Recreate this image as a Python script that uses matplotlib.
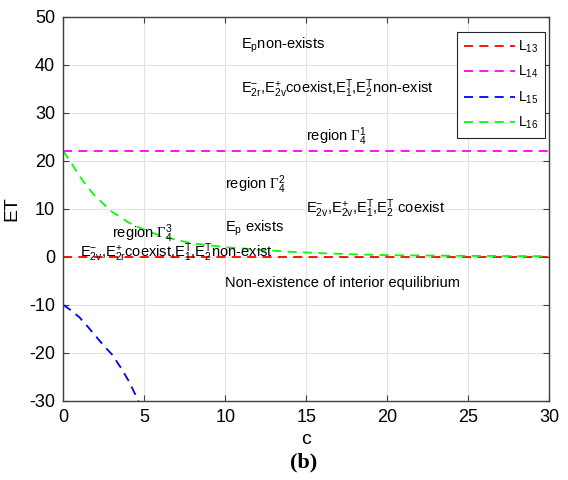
import numpy as np
import matplotlib
matplotlib.use("Agg")
import matplotlib.pyplot as plt

plt.rcParams['font.family'] = ['Liberation Sans', 'DejaVu Sans']
plt.rcParams['mathtext.fontset'] = 'custom'
plt.rcParams['mathtext.rm'] = 'Liberation Sans'
plt.rcParams['mathtext.it'] = 'Liberation Sans'
plt.rcParams['mathtext.sf'] = 'Liberation Serif'
plt.rcParams['axes.unicode_minus'] = False

# boundary curves in the (c, ET) plane
c13 = [0, 30]
et13 = [0, 0]

c14 = [0, 30]
et14 = [22, 22]

c15 = [0, 0.5, 1, 1.5, 2, 2.5, 3, 3.5, 4, 4.5, 4.7]
et15 = [-10, -11.2, -12.6, -14.5, -16.5, -18.5, -20.3, -22.8, -25.6, -29, -30.5]

c16 = [0, 0.5, 1, 1.5, 2, 3, 4, 5, 6, 7, 8, 10, 12, 14, 16, 18, 20, 24, 28, 30]
et16 = [22, 19.5, 16.8, 14.5, 12.5, 9.4, 7.2, 5.6, 4.4, 3.5, 2.8, 2.0, 1.5,
        1.05, 0.75, 0.5, 0.35, 0.22, 0.15, 0.12]

# region annotations: (c, ET, text)
notes = [
    (11, 44, r'E$_p$non-exists'),
    (11, 35, r'E$_{2r}^{-}$,E$_{2v}^{+}$coexist,E$_1^T$,E$_2^T$non-exist'),
    (15, 25, r'region $\mathsf{\Gamma}_4^1$'),
    (10, 15, r'region $\mathsf{\Gamma}_4^2$'),
    (15, 10, r'E$_{2v}^{-}$,E$_{2v}^{+}$,E$_1^T$,E$_2^T$ coexist'),
    (10, 6, r'E$_p$ exists'),
    (3, 4.8, r'region $\mathsf{\Gamma}_4^3$'),
    (1, 0.9, r'E$_{2v}^{-}$,E$_{2r}^{+}$coexist,E$_1^T$,E$_2^T$non-exist'),
    (10, -5.4, 'Non-existence of interior equilibrium'),
]

fig = plt.figure(figsize=(5.68, 4.8), dpi=100)
ax = fig.add_axes([0.1115, 0.1646, 0.855, 0.801])

dash = (0, (5, 3.5))
ax.plot(c13, et13, color='#ff0000', ls=dash, lw=1.3, label=r'L$_{13}$')
ax.plot(c14, et14, color='#ff00ff', ls=dash, lw=1.3, label=r'L$_{14}$')
ax.plot(c15, et15, color='#0000ff', ls=dash, lw=1.3, label=r'L$_{15}$')
ax.plot(c16, et16, color='#00ff00', ls=dash, lw=1.3, label=r'L$_{16}$')

for x, y, s in notes:
    ax.text(x, y, s, fontsize=10.5, ha='left', va='center')

ax.set_xlim(0, 30)
ax.set_ylim(-30, 50)
ax.set_xticks(np.arange(0, 31, 5))
ax.set_yticks(np.arange(-30, 51, 10))
ax.grid(True, color='#e3e3e3', lw=0.8)
ax.set_axisbelow(True)
ax.tick_params(direction='in', top=True, right=True, length=4, pad=6,
               labelsize=13, color='#404040')
for sp in ax.spines.values():
    sp.set_color('#404040')
    sp.set_linewidth(1.0)
ax.set_xlabel('c', fontsize=14)
ax.set_ylabel('ET', fontsize=14)
ax.xaxis.set_label_coords(0.5, -0.1)
ax.yaxis.set_label_coords(-0.105, 0.5)
ax.xaxis.label.set_va('center')
ax.yaxis.label.set_va('center')

leg = ax.legend(loc='upper left', bbox_to_anchor=(0.804, 0.934),
                bbox_transform=fig.transFigure, fontsize=10, handlelength=3.7,
                fancybox=False, framealpha=1, edgecolor='#262626',
                borderaxespad=0, labelspacing=0.65, handletextpad=0.2,
                borderpad=0.5)
leg.get_frame().set_linewidth(0.8)

fig.text(0.535, 0.037, '(b)', fontsize=16, fontweight='bold',
         family='Liberation Serif', ha='center', va='center')

fig.savefig('out.png', dpi=100)
